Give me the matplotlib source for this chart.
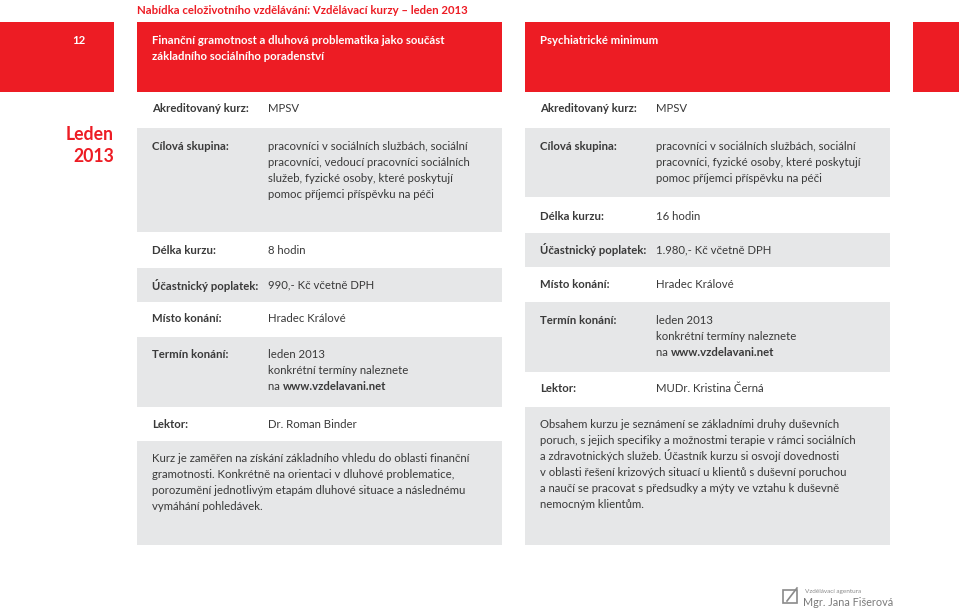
import matplotlib.pyplot as plt
from matplotlib.patches import Rectangle

# ---------------------------
# CONTENT
# ---------------------------
page_title = "Nabídka celoživotního vzdělávání: Vzdělávací kurzy – leden 2013"
course_no = "12"
month_label = ["Leden", "2013"]

left_title = ["Finanční gramotnost a dluhová problematika jako součást",
              "základního sociálního poradenství"]
right_title = ["Psychiatrické minimum"]

left_labels = ["Akreditovaný kurz:", "Cílová skupina:", "Délka kurzu:",
               "Účastnický poplatek:", "Místo konání:", "Termín konání:", "Lektor:"]
left_values = [["MPSV"],
               ["pracovníci v sociálních službách, sociální",
                "pracovníci, vedoucí pracovníci sociálních",
                "služeb, fyzické osoby, které poskytují",
                "pomoc příjemci příspěvku na péči"],
               ["8 hodin"],
               ["990,- Kč včetně DPH"],
               ["Hradec Králové"],
               ["leden 2013", "konkrétní termíny naleznete", "na |www.vzdelavani.net"],
               ["Dr. Roman Binder"]]
left_desc = ["Kurz je zaměřen na získání základního vhledu do oblasti finanční",
             "gramotnosti. Konkrétně na orientaci v dluhové problematice,",
             "porozumění jednotlivým etapám dluhové situace a následnému",
             "vymáhání pohledávek."]

right_labels = ["Akreditovaný kurz:", "Cílová skupina:", "Délka kurzu:",
                "Účastnický poplatek:", "Místo konání:", "Termín konání:", "Lektor:"]
right_values = [["MPSV"],
                ["pracovníci v sociálních službách, sociální",
                 "pracovníci, fyzické osoby, které poskytují",
                 "pomoc příjemci příspěvku na péči"],
                ["16 hodin"],
                ["1.980,- Kč včetně DPH"],
                ["Hradec Králové"],
                ["leden 2013", "konkrétní termíny naleznete", "na |www.vzdelavani.net"],
                ["MUDr. Kristina Černá"]]
right_desc = ["Obsahem kurzu je seznámení se základními druhy duševních",
              "poruch, s jejich specifiky a možnostmi terapie v rámci sociálních",
              "a zdravotnických služeb. Účastník kurzu si osvojí dovednosti",
              "v oblasti řešení krizových situací u klientů s duševní poruchou",
              "a naučí se pracovat s předsudky a mýty ve vztahu k duševně",
              "nemocným klientům."]

# ---------------------------
# STYLE
# ---------------------------
RED = "#ED1C24"
GRAY = "#E6E7E8"
TXT = "#3a3a3a"
FONT = "Lato"
FS = 8.2
LINE = 16

fig = plt.figure(figsize=(9.59, 6.10), dpi=100)
ax = fig.add_axes([0, 0, 1, 1])
ax.set_xlim(0, 959)
ax.set_ylim(610, 0)
ax.axis("off")


def box(x0, x1, y0, y1, color):
    ax.add_patch(Rectangle((x0, y0), x1 - x0, y1 - y0, color=color, lw=0))


def line(x, y, s, bold=False, color=TXT, size=FS, ha="left"):
    if "|" in s:
        # plain prefix followed by a bold part
        a, b = s.split("|")
        t = ax.text(x, y, a, fontsize=size, color=color, family=FONT, va="center", ha=ha)
        fig.canvas.draw()
        x2 = x + t.get_window_extent().width
        ax.text(x2, y, b, fontsize=size, color=color, family=FONT, va="center",
                fontweight="bold")
        return
    ax.text(x, y, s, fontsize=size, color=color, family=FONT, va="center", ha=ha,
            fontweight="bold" if bold else "normal")


# header
ax.text(137, 11, page_title, fontsize=8.2, color=RED, family=FONT,
        fontweight="bold", va="center")
box(0, 114, 22, 92, RED)
box(137, 502, 22, 92, RED)
box(525, 890, 22, 92, RED)
box(913, 959, 22, 92, RED)
ax.text(79, 40, course_no, fontsize=FS, color="white", family=FONT,
        fontweight="bold", va="center", ha="center")
for i, s in enumerate(left_title):
    line(152, 40 + i * LINE, s, bold=True, color="white")
for i, s in enumerate(right_title):
    line(540, 40 + i * LINE, s, bold=True, color="white")

ax.text(114, 135, month_label[0], fontsize=12.7, color=RED, family=FONT,
        fontweight="bold", va="center", ha="right")
ax.text(114, 157, month_label[1], fontsize=12.7, color=RED, family=FONT,
        fontweight="bold", va="center", ha="right")


def column(x0, x1, labels, values, desc, rows, desc_box):
    # rows: (text_y, gray box or None)
    for (ty, gb), lab, val in zip(rows, labels, values):
        if gb:
            box(x0, x1, gb[0], gb[1], GRAY)
        line(x0 + 15, ty, lab, bold=True)
        for j, s in enumerate(val):
            line(x0 + 131, ty + j * LINE, s)
    box(x0, x1, desc_box[0], desc_box[1], GRAY)
    for j, s in enumerate(desc):
        line(x0 + 15, desc_box[0] + 17 + j * LINE, s)


left_rows = [(109, None), (147, (128, 232)), (251, None), (285, (268, 302)),
             (319, None), (354, (337, 407)), (424, None)]
right_rows = [(109, None), (147, (128, 197)), (216, None), (250, (233, 267)),
              (285, None), (320, (302, 372)), (389, None)]

column(137, 502, left_labels, left_values, left_desc, left_rows, (441, 545))
column(525, 890, right_labels, right_values, right_desc, right_rows, (407, 545))

# logo
ax.add_patch(Rectangle((783, 590), 14, 13, fill=False, ec="#8a8a8a", lw=1.2))
ax.plot([787, 797], [601, 588], color="#8a8a8a", lw=1.2)
ax.text(805, 592, "Vzdělávací agentura", fontsize=4.6, color="#8a8a8a",
        family=FONT, va="center")
ax.text(803, 602, "Mgr. Jana Fišerová", fontsize=7.8, color="#7a7a7a",
        family=FONT, va="center")

fig.savefig("out.png", dpi=100)
